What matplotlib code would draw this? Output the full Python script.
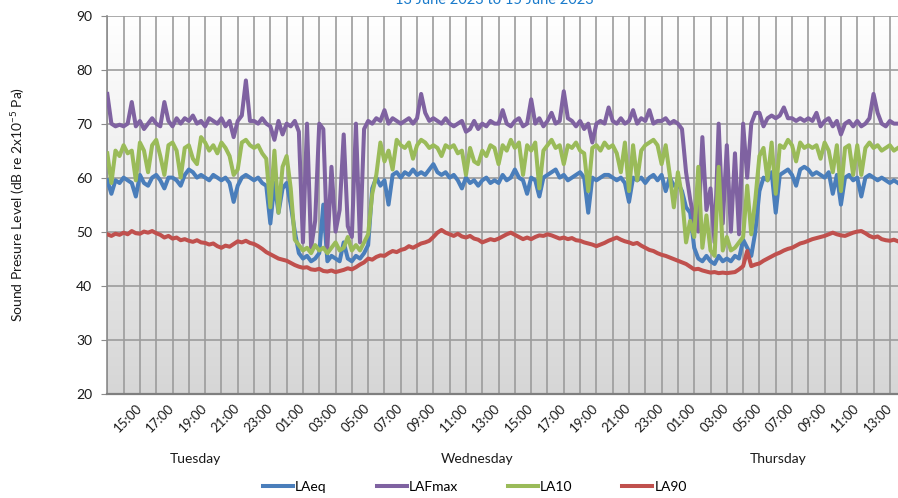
import matplotlib
matplotlib.use('Agg')
import matplotlib.pyplot as plt
import matplotlib.dates as mdates
from matplotlib.colors import LinearSegmentedColormap
from matplotlib.transforms import blended_transform_factory
import numpy as np
import pandas as pd

plt.rcParams['font.family'] = ['Lato', 'DejaVu Sans']
plt.rcParams['mathtext.fontset'] = 'custom'
plt.rcParams['mathtext.rm'] = 'Lato'

# 15 minute samples from Tue 13 June 2023 13:00
start = '2023-06-13 13:00'

laeq = [
    59.5, 57, 59.5, 59, 60, 59.5, 59, 56.5,
    60.5, 59, 58.5, 60, 60.5, 59.5, 58, 60,
    60, 59.5, 58.5, 60.5, 61.5, 61, 60, 60.5,
    60, 59.5, 60.5, 60, 59.5, 60, 59, 55.5,
    58.5, 60, 60.5, 60, 59.5, 60, 59, 58.5,
    51.5, 59, 53.5, 58, 59, 55, 50, 46,
    45, 45.5, 44.5, 45, 46, 55, 44.5, 45.5,
    45, 44.5, 48, 45, 44.5, 45.5, 45, 46,
    47.5, 58, 60, 58.5, 59.5, 55, 60.5, 61,
    60, 61, 60.5, 61.5, 60.5, 61, 60.5, 61.5,
    62.5, 61, 60.5, 61, 60, 60.5, 59.5, 58,
    60, 59, 59.5, 58.5, 59.5, 60, 59, 59.5,
    59, 60.5, 59.5, 60, 61.5, 60, 59.5, 57,
    60, 59.5, 56.5, 60, 60.5, 61, 61.5, 60,
    60.5, 59.5, 60, 60.5, 61, 60, 53.5, 60,
    59.5, 60, 60.5, 60.5, 60, 59.5, 60, 59,
    55.5, 60, 59.5, 60, 59, 60, 60.5, 59.5,
    60.5, 57.5, 60, 58.5, 59, 57.5, 54.5, 53.5,
    47, 45, 44.5, 45.5, 44.5, 44, 45.5, 44.5,
    45, 44.5, 45.5, 45, 48.5, 47, 45.5, 50,
    57.5, 60, 59.5, 61, 53.5, 60.5, 61, 61.5,
    60.5, 58.5, 61.5, 62, 61.5, 60.5, 61, 60.5,
    60, 61, 57, 60.5, 55, 60, 60.5, 59.5,
    60, 56.5, 60, 60.5, 60, 59.5, 60, 59.5,
    59, 59.5, 59,
]

lafmax = [
    75.5, 70, 69.5, 69.8, 69.5, 70, 74, 69.5,
    70.5, 69, 70, 71, 70, 69.5, 74, 70.5,
    69.5, 71, 70, 71, 70.5, 71.5, 70, 70.5,
    69.5, 71, 70.5, 70, 71, 69.5, 70.5, 67.5,
    70.5, 71.5, 78, 70.5, 70.5, 70, 71, 70,
    69.5, 67, 70.5, 68, 70, 69.5, 70.5, 68.5,
    48, 70, 47, 52, 70, 69, 47, 62,
    50, 54, 68, 51, 49, 70, 48, 69,
    70.5, 70, 71, 70.5, 72.5, 70, 71, 70.5,
    70, 70.5, 71, 70, 71, 75.5, 72, 70.5,
    71, 70.5, 70, 71, 70, 69.5, 70, 70.5,
    68.5, 69, 70.5, 69, 70, 69.5, 70.5, 70,
    70, 72.5, 70, 69.5, 70.5, 71, 69.5, 70,
    74.5, 70, 71, 69.5, 70.5, 72, 70, 70.5,
    76, 71, 70.5, 69.5, 70.5, 69, 70, 66.5,
    70, 70.5, 70, 73, 70.5, 70, 71, 70,
    70.5, 72.5, 70, 71, 70.5, 72.5, 70, 70.5,
    70.5, 71, 70, 70.5, 70, 69, 61, 56,
    52, 50, 67.5, 54, 58, 48, 70, 51.5,
    66, 50, 64.5, 49.5, 70, 60, 70, 72,
    72, 69.5, 71, 71.5, 71, 71.5, 73, 71,
    71, 70.5, 71, 70.5, 71, 70.5, 72, 69.5,
    70.5, 71, 69.5, 70.5, 68, 70, 70.5, 69.5,
    70.5, 69.5, 70, 71, 75.5, 72, 70, 69.5,
    70.5, 70, 70,
]

la10 = [
    64.5, 59, 65, 64, 66, 64.5, 65, 59.5,
    66.5, 65, 61, 66, 67, 64, 60.5, 66,
    66.5, 65, 60, 65.5, 66, 63.5, 62.5, 67.5,
    66.5, 65, 66, 64.5, 66.5, 65.5, 64, 60.5,
    61.5, 66.5, 67, 66, 65.5, 66, 64.5, 63.5,
    54.5, 65, 53.5, 62, 64, 58, 48.5, 47.5,
    46.5, 47, 46, 47.5, 46.5, 47, 46, 47,
    48, 46.5, 47, 49, 46.5, 47.5, 46.5, 48,
    49.5, 57, 60.5, 66.5, 63, 65, 61.5, 67,
    66, 65.5, 66.5, 63.5, 66, 67, 66.5, 65.5,
    66, 65.5, 64, 66, 65.5, 66, 64.5, 65,
    60.5, 65.5, 63, 62.5, 65, 64, 66, 65.5,
    62.5, 66, 65, 67, 65.5, 66.5, 60.5, 66,
    65, 66.5, 58, 65, 66, 67, 65.5, 66,
    62.5, 66, 65.5, 66.5, 65, 64.5, 57.5, 65.5,
    66, 65, 66.5, 65.5, 66, 64.5, 61, 66.5,
    57.5, 66, 59.5, 65, 66, 66.5, 67, 66,
    62.5, 66, 60.5, 54.5, 61, 56.5, 48, 52,
    49, 62, 47, 53, 46.5, 45.5, 62, 46.5,
    49, 46.5, 47, 48, 49, 58.5, 49.5, 56,
    64, 65.5, 59.5, 66.5, 57, 66, 65.5, 67,
    66, 63, 66.5, 65.5, 66, 65.5, 66, 63.5,
    66.5, 65, 61, 66, 57.5, 65.5, 66, 60.5,
    66, 60.5, 65.5, 66.5, 65.5, 66, 65, 65.5,
    66, 65, 65.5,
]

la90 = [
    49.5, 49.2, 49.6, 49.4, 49.8, 49.5, 50.1, 49.7,
    49.6, 50.0, 49.8, 50.1, 49.7, 49.4, 48.9, 49.2,
    48.7, 48.9, 48.4, 48.6, 48.3, 48.1, 48.4, 48.0,
    47.9, 47.6, 47.8, 47.3, 47.0, 47.4, 47.2, 47.7,
    48.2, 48.0, 48.3, 47.9, 47.7, 47.3, 46.8, 46.2,
    45.8, 45.4, 45.0, 44.8, 44.6, 44.2, 43.8, 43.5,
    43.3, 43.4, 43.0, 42.9, 43.1, 42.7, 42.6, 42.8,
    42.5, 42.7, 42.9, 43.2, 43.0, 43.4, 43.9, 44.3,
    45.0, 44.8, 45.3, 45.6, 45.5, 46.0, 46.4, 46.2,
    46.6, 46.8, 47.3, 47.0, 47.4, 47.8, 48.0, 48.3,
    49.0, 49.8, 50.3, 49.8, 49.5, 49.2, 49.6, 49.1,
    48.9, 49.2, 48.7, 48.5, 48.0, 48.3, 48.6, 48.4,
    48.7, 49.1, 49.5, 49.8, 49.4, 49.0, 48.6, 48.9,
    48.6, 49.0, 49.3, 49.2, 49.5, 49.3, 49.0, 48.7,
    48.9, 48.6, 48.8, 48.4, 48.3, 48.0, 47.8, 47.6,
    47.3, 47.6, 47.9, 48.3, 48.6, 48.9, 48.5, 48.2,
    48.0, 47.7, 47.9, 47.4, 47.0, 46.6, 46.4, 46.0,
    45.7, 45.5, 45.2, 44.9, 44.6, 44.3, 44.0, 43.5,
    43.0, 43.1, 42.8, 42.6, 42.4, 42.5, 42.3, 42.4,
    42.3, 42.4, 42.5, 43.0, 43.6, 46.4, 43.6, 43.9,
    44.1, 44.6, 45.0, 45.4, 45.8, 46.1, 46.5, 46.8,
    47.0, 47.4, 47.8, 48.0, 48.3, 48.6, 48.8, 49.0,
    49.2, 49.5, 49.8, 49.5, 49.3, 49.2, 49.5, 49.8,
    50.0, 50.1, 49.7, 49.2, 48.9, 49.1, 48.6, 48.4,
    48.3, 48.5, 48.2,
]

series_names = ['LAeq', 'LAFmax', 'LA10', 'LA90']
series_values = [laeq, lafmax, la10, la90]
series_colors = ['#4A7EBB', '#7F62A1', '#9ABB59', '#C0504D']

days = ['Tuesday', 'Wednesday', 'Thursday']
day_centres = ['2023-06-13 18:25', '2023-06-14 11:40', '2023-06-15 06:10']

title = '13 June 2023 to 15 June 2023'
ylabel = 'Sound Presure Level (dB re 2x10$^{-5}$ Pa)'

fig = plt.figure(figsize=(8.98, 4.98), dpi=100)
ax = fig.add_axes([0.1195, 0.2098, 0.8805, 0.7587])

# grey-to-white plot background
grad = LinearSegmentedColormap.from_list('bg', ['#FFFFFF', '#D6D6D6'])
ax.imshow(np.linspace(0, 1, 256).reshape(-1, 1), cmap=grad, aspect='auto',
          extent=[0, 1, 0, 1], transform=ax.transAxes, zorder=0)

for name, vals, col in zip(series_names, series_values, series_colors):
    times = pd.date_range(start, periods=len(vals), freq='15min')
    ax.plot(times, vals, color=col, lw=2.9, label=name,
            solid_joinstyle='round', zorder=3)

ax.set_xlim(pd.Timestamp(start), pd.Timestamp('2023-06-15 13:30'))
ax.set_ylim(20, 90)
ax.set_yticks(range(20, 91, 10))

tick_times = pd.date_range('2023-06-13 15:00', '2023-06-15 13:00', freq='2h')
ax.set_xticks(tick_times)
ax.xaxis.set_major_formatter(mdates.DateFormatter('%H:%M'))
ax.xaxis.set_minor_locator(mdates.HourLocator())

ax.grid(True, which='both', axis='x', color='#9C9C9C', lw=1.2, zorder=1)
ax.grid(True, which='major', axis='y', color='#9C9C9C', lw=1.2, zorder=1)

ax.tick_params(axis='x', which='both', length=0, labelsize=9.5, pad=9,
               labelcolor='#1a1a1a')
ax.tick_params(axis='y', length=4, color='#8C8C8C', labelsize=10, pad=7,
               labelcolor='#1a1a1a')
plt.setp(ax.get_xticklabels(), rotation=45, ha='right', va='center',
         rotation_mode='anchor')

for side in ['top', 'right']:
    ax.spines[side].set_visible(False)
ax.spines['left'].set_color('#8C8C8C')
ax.spines['left'].set_linewidth(1.2)
ax.spines['bottom'].set_color('#7F7F7F')
ax.spines['bottom'].set_linewidth(1.6)

fig.text(0.02, 0.589, ylabel, rotation=90, ha='center', va='center',
         fontsize=10, color='#1a1a1a')
fig.text(494 / 898, 1 - 4 / 498, title, ha='center', va='baseline',
         fontsize=10.5, color='#1A7BCB')

trans = blended_transform_factory(ax.transData, fig.transFigure)
for d, c in zip(days, day_centres):
    ax.text(mdates.date2num(pd.Timestamp(c)), 1 - 459 / 498, d,
            transform=trans, ha='center', va='center', fontsize=10,
            color='#1a1a1a')

fig.legend(loc='center', bbox_to_anchor=(475 / 898, 1 - 487 / 498), ncol=4,
           frameon=False, handlelength=2.15, handletextpad=0.15,
           columnspacing=3.6, fontsize=10)

fig.savefig('out.png', dpi=100)
